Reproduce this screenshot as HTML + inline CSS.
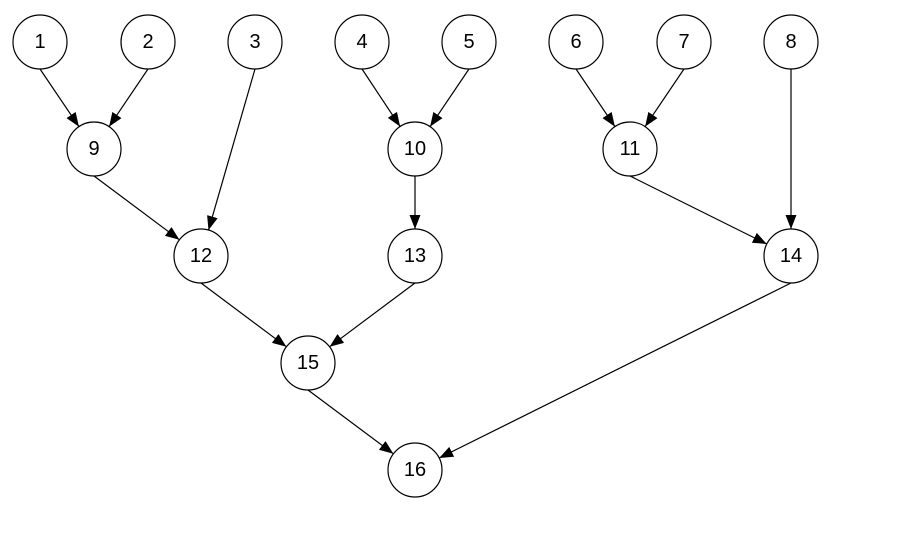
<!DOCTYPE html>
<html><head><meta charset="utf-8"><style>
html,body{margin:0;padding:0;background:#fff;}
svg{display:block;}
text{font-family:"Liberation Sans",sans-serif;font-size:20px;text-anchor:middle;dominant-baseline:central;fill:#000;}
</style></head><body>
<svg width="919" height="544" viewBox="0 0 919 544" xmlns="http://www.w3.org/2000/svg">
<defs>
<marker id="a" markerUnits="userSpaceOnUse" markerWidth="15" markerHeight="11" refX="14" refY="5.5" orient="auto">
<path d="M0,0 L14,5.5 L0,11 z" fill="#000"/>
</marker>
</defs>
<g stroke="#000" stroke-width="1.2" marker-end="url(#a)">
<line x1="40" y1="69" x2="78.9" y2="126.6"/>
<line x1="148" y1="69" x2="109.1" y2="126.6"/>
<line x1="255" y1="69" x2="208.5" y2="230.1"/>
<line x1="362" y1="69" x2="400.1" y2="126.5"/>
<line x1="469" y1="69" x2="430.1" y2="126.6"/>
<line x1="576" y1="69" x2="614.9" y2="126.6"/>
<line x1="684" y1="69" x2="645.1" y2="126.6"/>
<line x1="791" y1="69" x2="791" y2="229"/>
<line x1="94" y1="176" x2="179.4" y2="239.8"/>
<line x1="415" y1="176" x2="415" y2="229"/>
<line x1="630" y1="176" x2="766.8" y2="244"/>
<line x1="201" y1="283" x2="286.4" y2="346.8"/>
<line x1="415" y1="283" x2="329.6" y2="346.8"/>
<line x1="308" y1="390" x2="393.4" y2="453.8"/>
<line x1="791" y1="283" x2="439.2" y2="458"/>
</g>
<g fill="#fff" stroke="#000" stroke-width="1.2">
<circle cx="40" cy="42" r="27"/><circle cx="148" cy="42" r="27"/><circle cx="255" cy="42" r="27"/><circle cx="362" cy="42" r="27"/>
<circle cx="469" cy="42" r="27"/><circle cx="576" cy="42" r="27"/><circle cx="684" cy="42" r="27"/><circle cx="791" cy="42" r="27"/>
<circle cx="94" cy="149" r="27"/><circle cx="415" cy="149" r="27"/><circle cx="630" cy="149" r="27"/>
<circle cx="201" cy="256" r="27"/><circle cx="415" cy="256" r="27"/><circle cx="791" cy="256" r="27"/>
<circle cx="308" cy="363" r="27"/><circle cx="415" cy="470" r="27"/>
</g>
<text x="40" y="42">1</text><text x="148" y="42">2</text><text x="255" y="42">3</text><text x="362" y="42">4</text>
<text x="469" y="42">5</text><text x="576" y="42">6</text><text x="684" y="42">7</text><text x="791" y="42">8</text>
<text x="94" y="149">9</text><text x="415" y="149">10</text><text x="630" y="149">11</text>
<text x="201" y="256">12</text><text x="415" y="256">13</text><text x="791" y="256">14</text>
<text x="308" y="363">15</text><text x="415" y="470">16</text>
</svg>
</body></html>
